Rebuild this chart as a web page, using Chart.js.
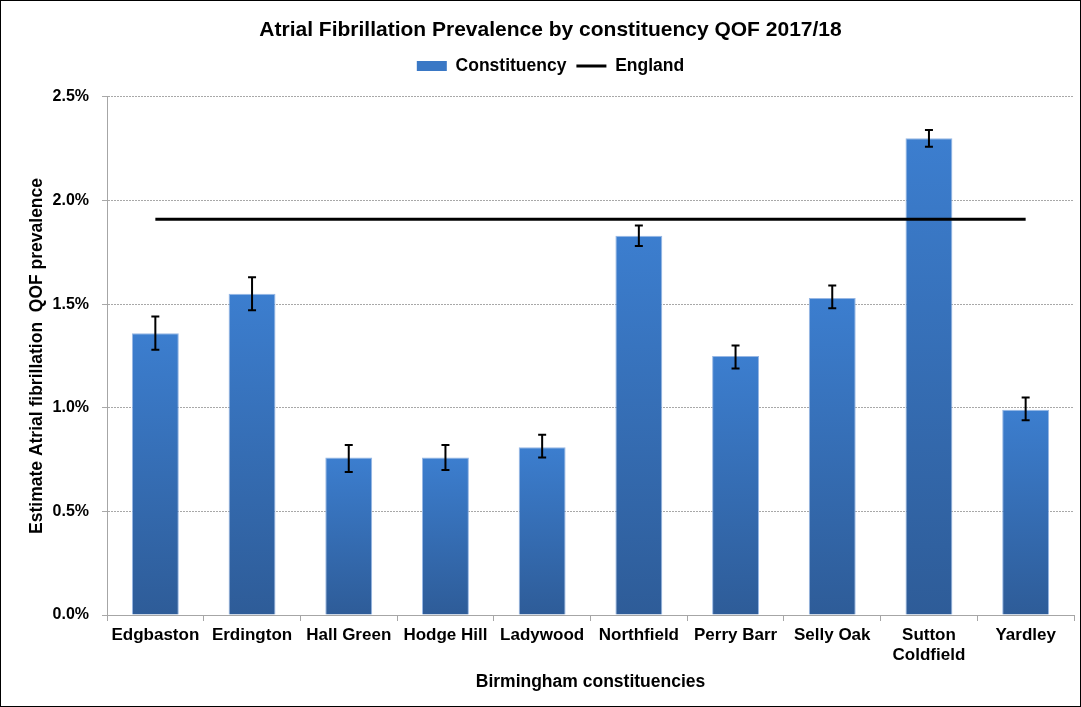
<!DOCTYPE html>
<html>
<head>
<meta charset="utf-8">
<script src="https://cdn.jsdelivr.net/npm/chart.js@4/dist/chart.umd.min.js"></script>
<style>
html,body{margin:0;padding:0;background:#fff;}
#wrap{width:1081px;height:707px;position:relative;}
</style>
</head>
<body>
<div id="wrap"><canvas id="c" width="1081" height="707"></canvas></div>
<script>
const categories = ['Edgbaston','Erdington','Hall Green','Hodge Hill','Ladywood','Northfield','Perry Barr','Selly Oak',['Sutton','Coldfield'],'Yardley'];
const constituencyValues = [1.36, 1.55, 0.76, 0.76, 0.81, 1.83, 1.25, 1.53, 2.30, 0.99];
const errorLow  = [1.28, 1.47, 0.69, 0.70, 0.76, 1.78, 1.19, 1.48, 2.26, 0.94];
const errorHigh = [1.44, 1.63, 0.82, 0.82, 0.87, 1.88, 1.30, 1.59, 2.34, 1.05];
const englandValue = 1.91;
const englandValues = categories.map(() => englandValue);
const yTicks = [0, 0.5, 1.0, 1.5, 2.0, 2.5];

const FONT = "'Liberation Sans', Arial, sans-serif";

function barGradient(ctx) {
  const chart = ctx.chart;
  if (!chart.chartArea || ctx.type !== 'data') return '#3a78c5';
  const y = chart.scales.y;
  const top = y.getPixelForValue(ctx.raw);
  const bot = y.getPixelForValue(0);
  const g = chart.ctx.createLinearGradient(0, top, 0, bot);
  g.addColorStop(0, '#3c7ecf');
  g.addColorStop(1, '#2e5c98');
  return g;
}

const errorBarPlugin = {
  id: 'errorBars',
  afterDatasetsDraw(chart) {
    const meta = chart.getDatasetMeta(1);
    const y = chart.scales.y;
    const c = chart.ctx;
    c.save();
    c.strokeStyle = '#000';
    c.lineWidth = 2;
    meta.data.forEach((bar, i) => {
      const x = bar.x;
      const yl = y.getPixelForValue(errorLow[i]);
      const yh = y.getPixelForValue(errorHigh[i]);
      c.beginPath();
      c.moveTo(x, yl); c.lineTo(x, yh);
      c.moveTo(x - 4, yl); c.lineTo(x + 4, yl);
      c.moveTo(x - 4, yh); c.lineTo(x + 4, yh);
      c.stroke();
    });
    c.restore();
  }
};

const framePlugin = {
  id: 'frame',
  beforeDraw(chart) {
    const c = chart.ctx;
    c.save();
    c.fillStyle = '#fff';
    c.fillRect(0, 0, chart.width, chart.height);
    c.restore();
  },
  afterDraw(chart) {
    const c = chart.ctx;
    c.save();
    c.strokeStyle = '#000';
    c.lineWidth = 1;
    c.strokeRect(0.5, 0.5, chart.width - 1, chart.height - 1);
    c.restore();
  }
};

new Chart(document.getElementById('c'), {
  type: 'bar',
  data: {
    labels: categories,
    datasets: [
      {
        type: 'line',
        label: 'England',
        data: englandValues,
        borderColor: '#000',
        backgroundColor: '#000',
        borderWidth: 3,
        pointRadius: 0,
        pointStyle: 'line',
        order: 0
      },
      {
        type: 'bar',
        label: 'Constituency',
        data: constituencyValues,
        backgroundColor: barGradient,
        borderColor: 'rgba(140,175,225,0.9)',
        borderWidth: 1,
        pointStyle: 'rect',
        categoryPercentage: 1.0,
        barPercentage: 0.485,
        order: 1
      }
    ]
  },
  options: {
    responsive: false,
    animation: false,
    layout: { padding: { left: 27, right: 7, top: 0, bottom: 14 } },
    plugins: {
      title: {
        display: true,
        text: 'Atrial Fibrillation Prevalence by constituency QOF 2017/18',
        color: '#000',
        font: { family: FONT, size: 21, weight: 'bold' },
        padding: { top: 18, bottom: 4 }
      },
      subtitle: {
        display: true,
        text: '',
        font: { size: 1 },
        padding: { top: 0, bottom: 11 }
      },
      legend: {
        display: true,
        reverse: true,
        weight: 1800,
        labels: {
          color: '#000',
          font: { family: FONT, size: 17.5, weight: 'bold' },
          usePointStyle: true,
          pointStyleWidth: 30,
          boxHeight: 10,
          padding: 10,
          generateLabels(chart) {
            const items = Chart.defaults.plugins.legend.labels.generateLabels(chart);
            items.forEach(it => {
              if (it.text === 'Constituency') { it.fillStyle = '#3a78c5'; it.strokeStyle = '#3a78c5'; it.lineWidth = 0; }
              else { it.lineWidth = 3; it.strokeStyle = '#000'; }
            });
            return items;
          }
        }
      },
      tooltip: { enabled: false }
    },
    scales: {
      x: {
        offset: true,
        grid: { display: true, drawOnChartArea: false, drawTicks: true, tickLength: 6, color: '#a6a6a6', offset: true },
        border: { display: true, color: '#a6a6a6', width: 1 },
        ticks: { color: '#000', font: { family: FONT, size: 17, weight: 'bold' }, maxRotation: 0, autoSkip: false, padding: 4 },
        title: {
          display: true,
          text: 'Birmingham constituencies',
          color: '#000',
          font: { family: FONT, size: 17.5, weight: 'bold' },
          padding: { top: 6, bottom: 0 }
        },
        afterFit(s) { s.height = 78; }
      },
      y: {
        min: 0,
        max: 2.5,
        afterBuildTicks(s) { s.ticks = yTicks.map(v => ({ value: v })); },
        grid: { color: '#a8a8a8', tickLength: 5, drawTicks: true },
        border: { display: true, color: '#a6a6a6', width: 1, dash: [2, 1] },
        ticks: {
          color: '#000',
          font: { family: FONT, size: 16, weight: 'bold' },
          padding: 13,
          callback: v => Number(v).toFixed(1) + '%'
        },
        title: {
          display: true,
          text: 'Estimate Atrial fibrillation  QOF prevalence',
          color: '#000',
          font: { family: FONT, size: 17.5, weight: 'bold' },
          padding: { top: 0, bottom: 4 }
        },
        afterFit(s) { s.width = 80; }
      }
    }
  },
  plugins: [framePlugin, errorBarPlugin]
});
</script>
</body>
</html>
